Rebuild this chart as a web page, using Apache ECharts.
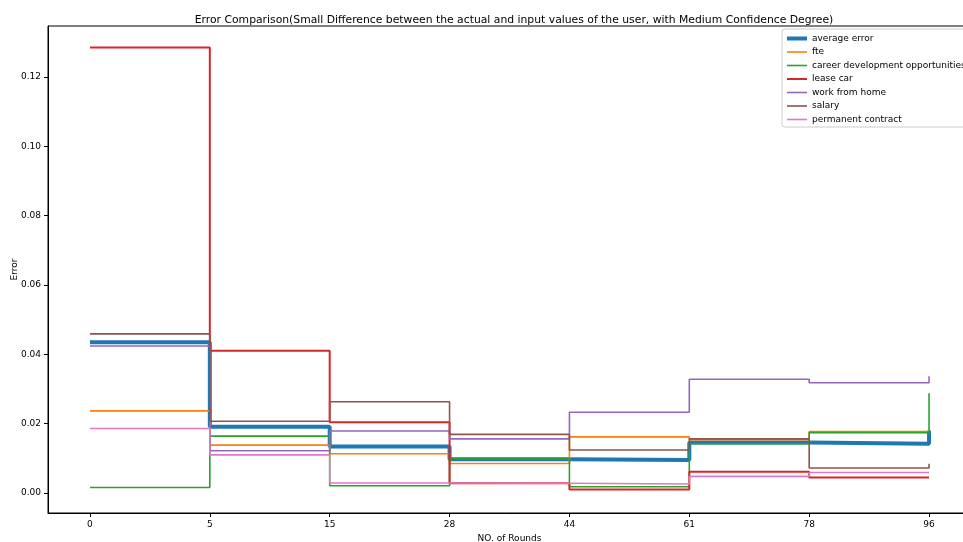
<!DOCTYPE html>
<html>
<head>
<meta charset="utf-8">
<script src="https://cdn.jsdelivr.net/npm/echarts@6/dist/echarts.min.js"></script>
<style>
  html, body { margin: 0; padding: 0; background: #fff; }
  #chart { width: 963px; height: 542px; }
</style>
</head>
<body>
<div id="chart"></div>
<script>
// Round checkpoints shown on the x axis
const rounds = ['0', '5', '15', '28', '44', '61', '78', '96'];

// Error at each checkpoint (held until the next checkpoint)
const averageError = [0.0435, 0.0191, 0.0134, 0.0097, 0.0095, 0.0146, 0.0142, 0.0180];
const fte = [0.0237, 0.0138, 0.0113, 0.0085, 0.0162, 0.0154, 0.0177, 0.0177];
const careerDevelopment = [0.0016, 0.0164, 0.0021, 0.0099, 0.0018, 0.0142, 0.0174, 0.0288];
const leaseCar = [0.1285, 0.0410, 0.0204, 0.0028, 0.0010, 0.0061, 0.0045, 0.0047];
const workFromHome = [0.0424, 0.0122, 0.0179, 0.0156, 0.0233, 0.0328, 0.0318, 0.0337];
const salary = [0.0459, 0.0207, 0.0263, 0.0169, 0.0124, 0.0156, 0.0072, 0.0084];
const permanentContract = [0.0186, 0.0110, 0.0029, 0.0028, 0.0026, 0.0048, 0.0059, 0.0059];

const yTicks = [0, 0.02, 0.04, 0.06, 0.08, 0.10, 0.12];

const FONT = 'DejaVu Sans';

const seriesDefs = [
  { name: 'average error', values: averageError, color: '#1f77b4', width: 4 },
  { name: 'fte', values: fte, color: '#ff7f0e', width: 1.6 },
  { name: 'career development opportunities', values: careerDevelopment, color: '#2ca02c', width: 1.6 },
  { name: 'lease car', values: leaseCar, color: '#d62728', width: 2 },
  { name: 'work from home', values: workFromHome, color: '#9467bd', width: 1.6 },
  { name: 'salary', values: salary, color: '#8c564b', width: 1.6 },
  { name: 'permanent contract', values: permanentContract, color: '#e377c2', width: 1.6 }
];

const chart = echarts.init(document.getElementById('chart'), null, { renderer: 'canvas' });

chart.setOption({
  animation: false,
  backgroundColor: '#fff',
  textStyle: { fontFamily: FONT },
  title: {
    text: 'Error Comparison(Small Difference between the actual and input values of the user, with Medium Confidence Degree)',
    left: 509,
    top: 10,
    textAlign: 'center',
    textStyle: { fontFamily: FONT, fontSize: 10.8, fontWeight: 'normal', color: '#000' }
  },
  legend: {
    orient: 'vertical',
    left: 782,
    top: 29,
    padding: [5, 20, 3, 3],
    itemWidth: 20,
    itemHeight: 10,
    itemGap: 4.5,
    backgroundColor: 'rgba(255,255,255,0.85)',
    borderColor: '#cccccc',
    borderWidth: 1,
    borderRadius: 3,
    itemStyle: { opacity: 0 },
    textStyle: { fontFamily: FONT, fontSize: 9, color: '#000' },
    data: seriesDefs.map(s => ({ name: s.name, lineStyle: { width: s.width } }))
  },
  grid: {
    left: 48,
    top: 26,
    width: 923,
    height: 487,
    show: true,
    borderColor: '#000',
    borderWidth: 1,
    containLabel: false,
    outerBoundsMode: 'none'
  },
  xAxis: {
    type: 'value',
    min: -0.35,
    max: 7.35,
    name: 'NO. of Rounds',
    nameLocation: 'middle',
    nameGap: 20,
    nameTextStyle: { fontFamily: FONT, fontSize: 9, color: '#000' },
    axisLine: { show: true, onZero: false, lineStyle: { color: '#000', width: 1 } },
    splitLine: { show: false },
    axisTick: { show: true, length: 4, lineStyle: { color: '#000' }, customValues: rounds.map((_, i) => i) },
    axisLabel: {
      fontFamily: FONT, fontSize: 9, color: '#000', margin: 7,
      customValues: rounds.map((_, i) => i),
      formatter: v => rounds[Math.round(v)]
    }
  },
  yAxis: {
    type: 'value',
    min: -0.00577,
    max: 0.1347,
    name: 'Error',
    nameLocation: 'middle',
    nameGap: 29,
    nameMoveOverlap: false,
    nameRotate: 90,
    nameTextStyle: { fontFamily: FONT, fontSize: 9, color: '#000' },
    axisLine: { show: true, onZero: false, lineStyle: { color: '#000', width: 1 } },
    splitLine: { show: false },
    axisTick: { show: true, length: 4, lineStyle: { color: '#000' }, customValues: yTicks },
    axisLabel: {
      fontFamily: FONT, fontSize: 9, color: '#000', margin: 7,
      customValues: yTicks,
      formatter: v => v.toFixed(2)
    }
  },
  series: seriesDefs.map(s => ({
    name: s.name,
    type: 'line',
    step: 'end',
    symbol: 'none',
    color: s.color,
    lineStyle: { color: s.color, width: s.width },
    data: s.values.map((v, i) => [i, v])
  }))
});
</script>
</body>
</html>
